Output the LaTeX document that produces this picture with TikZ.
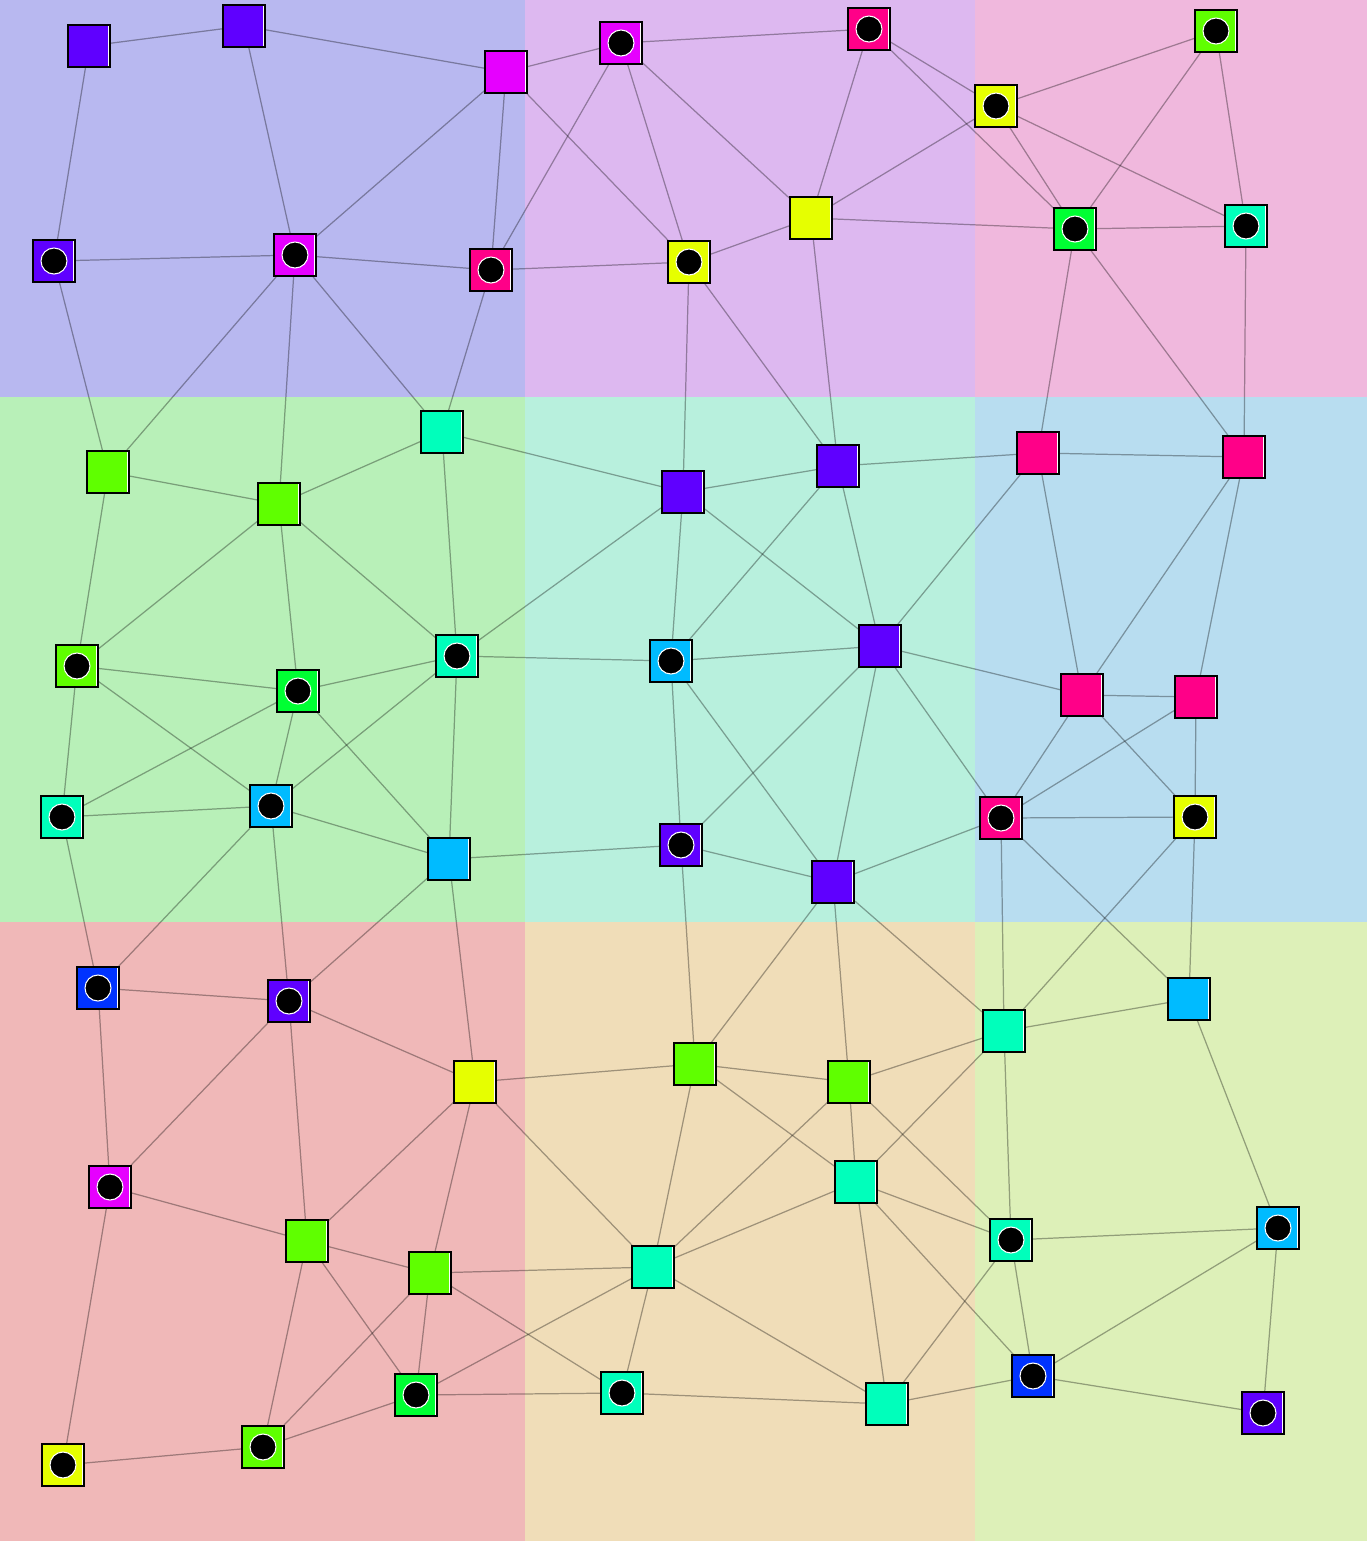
\documentclass[tikz,border=0pt]{standalone}
\definecolor{zoneNW}{RGB}{184,184,240}
\definecolor{zoneN}{RGB}{221,184,240}
\definecolor{zoneNE}{RGB}{240,184,221}
\definecolor{zoneW}{RGB}{184,240,184}
\definecolor{zoneC}{RGB}{184,240,221}
\definecolor{zoneE}{RGB}{184,221,240}
\definecolor{zoneSW}{RGB}{240,184,184}
\definecolor{zoneS}{RGB}{240,221,184}
\definecolor{zoneSE}{RGB}{221,240,184}
\definecolor{cViolet}{RGB}{95,0,255}
\definecolor{cMagenta}{RGB}{230,0,255}
\definecolor{cRose}{RGB}{255,0,136}
\definecolor{cYellow}{RGB}{230,255,0}
\definecolor{cLime}{RGB}{95,255,0}
\definecolor{cGreen}{RGB}{0,255,51}
\definecolor{cAqua}{RGB}{0,255,187}
\definecolor{cSky}{RGB}{0,187,255}
\definecolor{cBlue}{RGB}{0,51,255}
\pgfdeclarelayer{zones}
\pgfdeclarelayer{links}
\pgfsetlayers{zones,links,main}
\tikzset{
  sq/.style={rectangle, draw=black, line width=0.45pt, minimum size=0.42cm, inner sep=0pt, fill=#1,
             path picture={\draw[white, line width=0.25pt]
               ([xshift=-0.55pt]path picture bounding box.north east) --
               ([xshift=-0.55pt]path picture bounding box.south east);}},
  holed/.style={sq=#1, label={[circle, fill=black, draw=white, line width=0.3pt,
                minimum size=0.26cm, inner sep=0pt]center:{}}},
  link/.style={draw=black, draw opacity=0.34, line width=0.35pt},
}
\begin{document}
\begin{tikzpicture}[x=0.01cm, y=-0.01cm]
  \useasboundingbox (0,0) rectangle (1367,1541);
  % zones
  \begin{pgfonlayer}{zones}
    \fill[zoneNW] (0,0) rectangle (525,397);
    \fill[zoneN]  (525,0) rectangle (975,397);
    \fill[zoneNE] (975,0) rectangle (1367,397);
    \fill[zoneW]  (0,397) rectangle (525,922);
    \fill[zoneC]  (525,397) rectangle (975,922);
    \fill[zoneE]  (975,397) rectangle (1367,922);
    \fill[zoneSW] (0,922) rectangle (525,1541);
    \fill[zoneS]  (525,922) rectangle (975,1541);
    \fill[zoneSE] (975,922) rectangle (1367,1541);
  \end{pgfonlayer}

  % top row
  \node[sq=cViolet]     (nw1) at (89,46) {};
  \node[sq=cViolet]     (nw2) at (244,26) {};
  \node[sq=cMagenta]    (nw3) at (506,72) {};
  \node[holed=cViolet]  (nw4) at (54,261) {};
  \node[holed=cMagenta] (nw5) at (295,255) {};
  \node[holed=cRose]    (nw6) at (491,270) {};
  \node[holed=cMagenta] (n1) at (621,43) {};
  \node[holed=cRose]    (n2) at (869,29) {};
  \node[sq=cYellow]     (n3) at (811,218) {};
  \node[holed=cYellow]  (n4) at (689,262) {};
  \node[holed=cLime]    (ne1) at (1216,31) {};
  \node[holed=cYellow]  (ne2) at (996,106) {};
  \node[holed=cGreen]   (ne3) at (1075,229) {};
  \node[holed=cAqua]    (ne4) at (1246,226) {};

  % middle row
  \node[sq=cLime]       (w1) at (108,472) {};
  \node[sq=cLime]       (w2) at (279,504) {};
  \node[sq=cAqua]       (w3) at (442,432) {};
  \node[holed=cLime]    (w4) at (77,666) {};
  \node[holed=cGreen]   (w5) at (298,691) {};
  \node[holed=cAqua]    (w6) at (457,656) {};
  \node[holed=cAqua]    (w7) at (62,817) {};
  \node[holed=cSky]     (w8) at (271,806) {};
  \node[sq=cSky]        (w9) at (449,859) {};
  \node[sq=cViolet]     (c1) at (683,492) {};
  \node[sq=cViolet]     (c2) at (838,466) {};
  \node[sq=cViolet]     (c3) at (880,646) {};
  \node[holed=cSky]     (c4) at (671,661) {};
  \node[holed=cViolet]  (c5) at (681,845) {};
  \node[sq=cViolet]     (c6) at (833,882) {};
  \node[sq=cRose]       (e1) at (1038,453) {};
  \node[sq=cRose]       (e2) at (1244,457) {};
  \node[sq=cRose]       (e3) at (1082,695) {};
  \node[sq=cRose]       (e4) at (1196,697) {};
  \node[holed=cRose]    (e5) at (1001,818) {};
  \node[holed=cYellow]  (e6) at (1195,817) {};

  % bottom row
  \node[holed=cBlue]    (sw1) at (98,988) {};
  \node[holed=cViolet]  (sw2) at (289,1001) {};
  \node[sq=cYellow]     (sw3) at (475,1082) {};
  \node[holed=cMagenta] (sw4) at (110,1187) {};
  \node[sq=cLime]       (sw5) at (307,1241) {};
  \node[sq=cLime]       (sw6) at (430,1273) {};
  \node[holed=cGreen]   (sw7) at (416,1395) {};
  \node[holed=cLime]    (sw8) at (263,1447) {};
  \node[holed=cYellow]  (sw9) at (63,1465) {};
  \node[sq=cLime]       (s1) at (695,1064) {};
  \node[sq=cLime]       (s2) at (849,1082) {};
  \node[sq=cAqua]       (s3) at (856,1182) {};
  \node[sq=cAqua]       (s4) at (653,1267) {};
  \node[holed=cAqua]    (s5) at (622,1393) {};
  \node[sq=cAqua]       (s6) at (887,1404) {};
  \node[sq=cAqua]       (se1) at (1004,1031) {};
  \node[sq=cSky]        (se2) at (1189,999) {};
  \node[holed=cAqua]    (se3) at (1011,1240) {};
  \node[holed=cSky]     (se4) at (1278,1228) {};
  \node[holed=cBlue]    (se5) at (1033,1376) {};
  \node[holed=cViolet]  (se6) at (1263,1413) {};

  % links
  \begin{pgfonlayer}{links}
  \foreach \a/\b in {nw1/nw2, nw1/nw4, nw2/nw3, nw2/nw5, nw3/nw5, nw3/nw6, nw3/n1, nw3/n4,
      nw4/nw5, nw4/w1, nw5/nw6, nw5/w1, nw5/w2, nw5/w3, nw6/n1, nw6/n4, nw6/w3,
      n1/n2, n1/n3, n1/n4, n2/n3, n2/ne2, n2/ne3, n3/n4, n3/ne2, n3/ne3, n3/c2, n4/c1, n4/c2,
      ne1/ne2, ne1/ne3, ne1/ne4, ne2/ne3, ne2/ne4, ne3/ne4, ne3/e1, ne3/e2, ne4/e2,
      w1/w2, w1/w4, w2/w3, w2/w4, w2/w5, w2/w6, w3/w6, w3/c1, w4/w5, w4/w7, w4/w8,
      w5/w6, w5/w7, w5/w8, w5/w9, w6/w8, w6/w9, w6/c1, w6/c4, w7/w8, w7/sw1, w8/w9,
      w8/sw1, w8/sw2, w9/c5, w9/sw2, w9/sw3,
      c1/c2, c1/c3, c1/c4, c2/c3, c2/c4, c2/e1, c3/c4, c3/c5, c3/c6, c3/e1, c3/e3, c3/e5,
      c4/c5, c4/c6, c5/c6, c5/s1, c6/e5, c6/s1, c6/s2, c6/se1,
      e1/e2, e1/e3, e2/e3, e2/e4, e3/e4, e3/e5, e3/e6, e4/e5, e4/e6, e5/e6,
      e5/se1, e5/se2, e6/se1, e6/se2,
      sw1/sw2, sw1/sw4, sw2/sw3, sw2/sw4, sw2/sw5, sw3/sw5, sw3/sw6, sw3/s1, sw3/s4,
      sw4/sw5, sw4/sw9, sw5/sw6, sw5/sw7, sw5/sw8, sw6/sw7, sw6/sw8, sw6/s4, sw6/s5,
      sw7/sw8, sw7/s4, sw7/s5, sw8/sw9,
      s1/s2, s1/s3, s1/s4, s2/s3, s2/s4, s2/se1, s2/se3, s3/s4, s3/s6, s3/se1, s3/se3,
      s3/se5, s4/s5, s4/s6, s5/s6, s6/se3, s6/se5,
      se1/se2, se1/se3, se2/se4, se3/se4, se3/se5, se4/se5, se4/se6, se5/se6}
    \draw[link] (\a) -- (\b);
  \end{pgfonlayer}
\end{tikzpicture}
\end{document}
